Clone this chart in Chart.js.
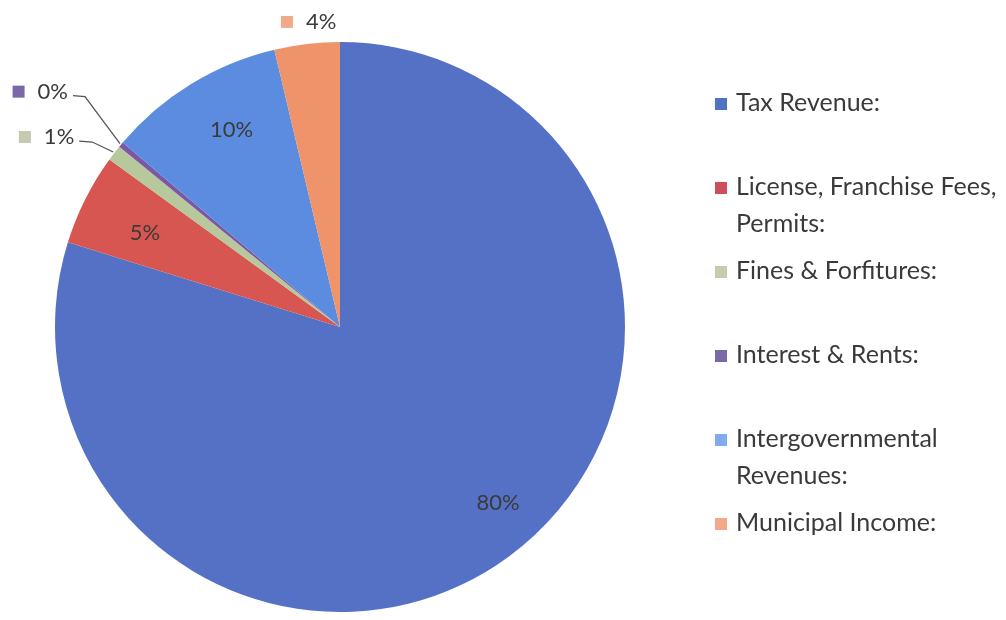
<!DOCTYPE html>
<html>
<head>
<meta charset="utf-8">
<script src="https://cdn.jsdelivr.net/npm/chart.js@4/dist/chart.umd.min.js"></script>
<style>
  html, body { margin: 0; padding: 0; background: #fff; }
  #wrap { position: relative; width: 1006px; height: 620px; }
</style>
</head>
<body>
<div id="wrap"><canvas id="pie"></canvas></div>
<script>
// ---- data ----
const categories = [
  ['Tax Revenue:'],
  ['License, Franchise Fees,', 'Permits:'],
  ['Fines & Forfitures:'],
  ['Interest & Rents:'],
  ['Intergovernmental', 'Revenues:'],
  ['Municipal Income:']
];
const shares = [79.8, 5.2, 0.9, 0.3, 10.1, 3.7];   // percent
const pctLabels = ['80%', '5%', '1%', '0%', '10%', '4%'];

// ---- styles ----
const sliceColors = ['#5571c6', '#d85651', '#b7c99c', '#7b58a6', '#5c8ce0', '#ef936b'];
const keyColors   = ['#5173c2', '#cf4e5c', '#c4cbae', '#7a68a8', '#82aaf0', '#f2a98a'];
const FONT = 'Lato, "Open Sans", sans-serif';
const TEXT = '#3a3a3a';

// label placement per slice: inside => radius fraction + angle shift (deg)
// outside => offset of text (right end) from the slice edge, with leader line
const labelPlace = [
  { inside: true, f: 0.83, da: -5.6 },
  { inside: true, f: 0.76, da: -0.9 },
  { inside: false, dx: -40, dy: -16, elbow: -22 },
  { inside: false, dx: -53, dy: -53, elbow: -36 },
  { inside: true, f: 0.79, da: 2.7 },
  { inside: false, dx: -1, dy: -22, left: true }
];

const pieLabels = {
  id: 'pieLabels',
  afterDatasetsDraw(chart) {
    const ctx = chart.ctx;
    const arcs = chart.getDatasetMeta(0).data;
    ctx.save();
    ctx.font = '22px ' + FONT;
    ctx.textBaseline = 'middle';
    arcs.forEach((arc, i) => {
      const p = labelPlace[i];
      const { x, y, startAngle, endAngle, outerRadius } = arc.getProps(['x', 'y', 'startAngle', 'endAngle', 'outerRadius'], true);
      const mid = (startAngle + endAngle) / 2;
      if (p.inside) {
        const a = mid + p.da * Math.PI / 180;
        const r = outerRadius * p.f;
        ctx.fillStyle = TEXT;
        ctx.textAlign = 'center';
        ctx.fillText(pctLabels[i], x + Math.cos(a) * r, y + Math.sin(a) * r);
        return;
      }
      const ex = x + Math.cos(mid) * outerRadius;
      const ey = y + Math.sin(mid) * outerRadius;
      const tx = ex + p.dx, ty = ey + p.dy;
      let textLeft;
      if (p.left) {
        textLeft = tx;
      } else {
        textLeft = tx - ctx.measureText(pctLabels[i]).width;
        // leader line
        ctx.strokeStyle = '#555';
        ctx.lineWidth = 1.3;
        ctx.beginPath();
        ctx.moveTo(tx + 5, ty + 4);
        ctx.lineTo(ex + p.elbow, ty + 5);
        ctx.lineTo(ex - 1, ey - 1);
        ctx.stroke();
      }
      ctx.fillStyle = TEXT;
      ctx.textAlign = 'left';
      ctx.fillText(pctLabels[i], textLeft, ty);
      ctx.fillStyle = keyColors[i];
      ctx.fillRect(textLeft - 25, ty - 6, 12, 12);
    });
    ctx.restore();
  }
};

const sideLegend = {
  id: 'sideLegend',
  afterDraw(chart) {
    const ctx = chart.ctx;
    const x0 = 715, y0 = 103, slot = 84, lineH = 37;
    ctx.save();
    ctx.font = '25px ' + FONT;
    ctx.textBaseline = 'middle';
    ctx.textAlign = 'left';
    chart.data.labels.forEach((lines, i) => {
      const y = y0 + i * slot;
      ctx.fillStyle = keyColors[i];
      ctx.fillRect(x0, y - 5, 12, 12);
      ctx.fillStyle = TEXT;
      lines.forEach((t, j) => ctx.fillText(t, x0 + 21, y + j * lineH));
    });
    ctx.restore();
  }
};

new Chart(document.getElementById('pie').getContext('2d'), {
  type: 'pie',
  data: {
    labels: categories,
    datasets: [{
      data: shares,
      backgroundColor: sliceColors,
      borderWidth: 0
    }]
  },
  options: {
    responsive: true,
    maintainAspectRatio: false,
    animation: false,
    layout: { padding: { left: 55, right: 381, top: 42, bottom: 8 } },
    plugins: {
      legend: { display: false },
      tooltip: { enabled: false }
    }
  },
  plugins: [pieLabels, sideLegend]
});
</script>
</body>
</html>
